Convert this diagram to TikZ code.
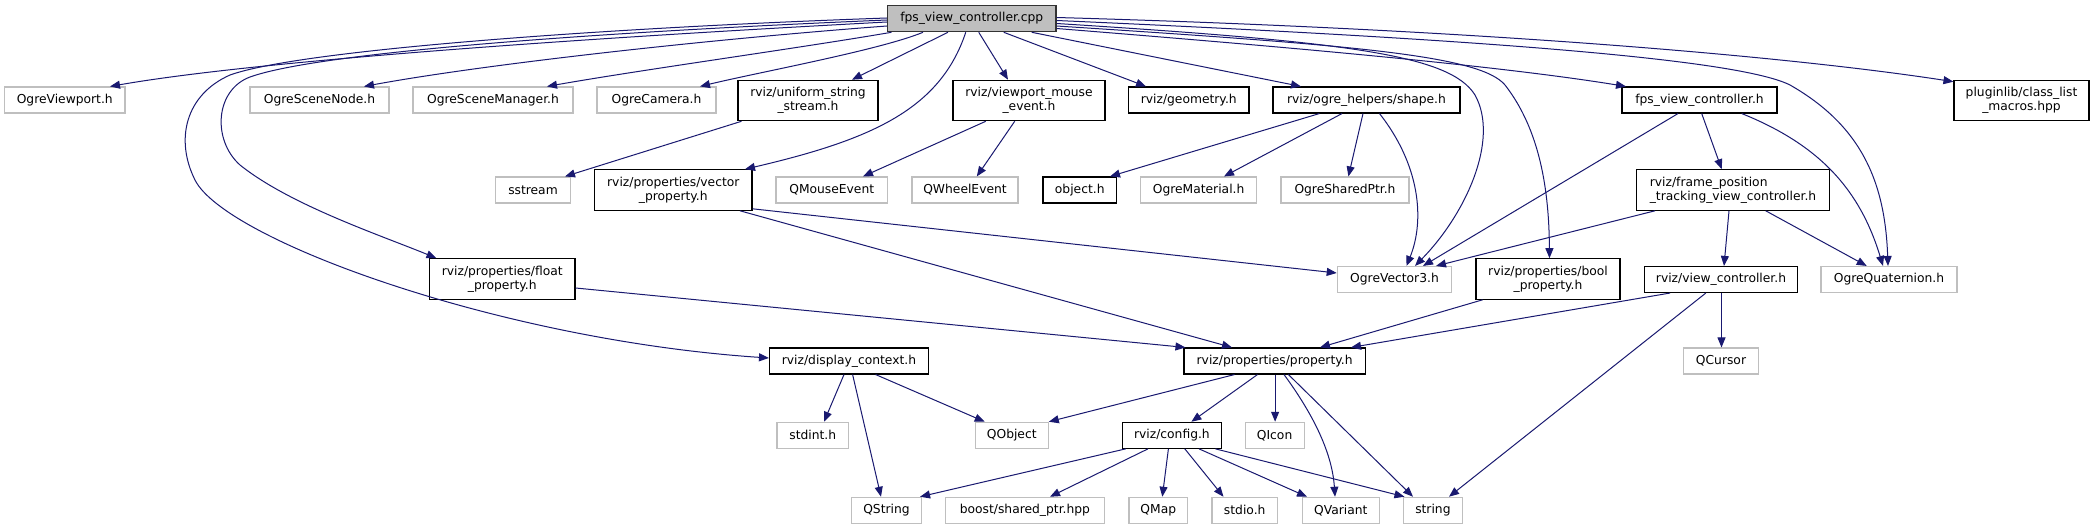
\documentclass[tikz,border=0pt]{standalone}
\usepackage{fontspec}
\setmainfont{DejaVu Sans}
\usetikzlibrary{arrows.meta,calc}
\definecolor{edgec}{HTML}{191970}
\definecolor{grayb}{HTML}{BFBFBF}
\begin{document}
\begin{tikzpicture}[x=1pt,y=-1pt,
  nd/.style={draw, inner sep=0pt, line width=1.1pt, font=\fontsize{12.3}{14}\selectfont, align=center, fill=white},
  blk/.style={nd, draw=black},
  gry/.style={nd, draw=grayb},
  rootn/.style={nd, draw=black!80, fill=grayb},
  s1/.style={minimum height=26},
  s2/.style={minimum height=40.5},
  e/.style={draw=edgec, line width=1pt, -{Triangle[length=10pt,width=8pt]}},
]
\fill[white] (0,0) rectangle (2094,529);
\useasboundingbox (0,0) rectangle (2094,529);

% root
\node[rootn, minimum width=168.5, minimum height=26.5] (root) at (971.75,18.5) {fps\_view\_controller.cpp};

% row 1
\node[gry, s1, minimum width=120.5] (vp) at (64.75,100) {OgreViewport.h};
\node[gry, s1, minimum width=139] (sn) at (319.5,100) {OgreSceneNode.h};
\node[gry, s1, minimum width=160] (sm) at (493,100) {OgreSceneManager.h};
\node[gry, s1, minimum width=119] (cam) at (656.5,100) {OgreCamera.h};
\node[blk, s2, minimum width=140] (uss) at (808,100.5) {rviz/uniform\_string\\\_stream.h};
\node[blk, s2, minimum width=152] (vme) at (1029,100.5) {rviz/viewport\_mouse\\\_event.h};
\node[blk, s1, minimum width=120.5] (geo) at (1188.75,100) {rviz/geometry.h};
\node[blk, s1, minimum width=187] (shape) at (1366.5,100) {rviz/ogre\_helpers/shape.h};
\node[blk, s1, minimum width=155] (fpsh) at (1699.5,100) {fps\_view\_controller.h};
\node[blk, s2, minimum width=135] (plug) at (2021.5,100.5) {pluginlib/class\_list\\\_macros.hpp};

% row 2
\node[gry, s1, minimum width=75] (sstream) at (533,190) {sstream};
\node[blk, s2, minimum width=157.4] (vecp) at (673.3,190) {rviz/properties/vector\\\_property.h};
\node[gry, s1, minimum width=111.5] (qme) at (831.75,190) {QMouseEvent};
\node[gry, s1, minimum width=106] (qwe) at (965,190) {QWheelEvent};
\node[blk, s1, minimum width=73.5] (obj) at (1079.75,190) {object.h};
\node[gry, s1, minimum width=116] (omat) at (1198.6,190) {OgreMaterial.h};
\node[gry, s1, minimum width=128] (osp) at (1345,190) {OgreSharedPtr.h};
\node[blk, s2, minimum width=193, align=left] (frame) at (1733,190) {rviz/frame\_position\\\_tracking\_view\_controller.h};

% row 3
\node[blk, s2, minimum width=145.5] (float) at (502.25,279) {rviz/properties/float\\\_property.h};
\node[gry, s1, minimum width=114.5] (ov3) at (1394.5,279.5) {OgreVector3.h};
\node[blk, s2, minimum width=144] (boolp) at (1548,279) {rviz/properties/bool\\\_property.h};
\node[blk, s1, minimum width=153.5] (vc) at (1721,279.5) {rviz/view\_controller.h};
\node[gry, s1, minimum width=136] (oq) at (1889,279.5) {OgreQuaternion.h};

% row 4
\node[blk, s1, minimum width=159] (dctx) at (849,361) {rviz/display\_context.h};
\node[blk, s1, minimum width=181.2] (prop) at (1274.6,361) {rviz/properties/property.h};
\node[gry, s1, minimum width=75] (qcur) at (1721,361) {QCursor};

% row 5
\node[gry, s1, minimum width=71.6] (stdint) at (812.8,435.3) {stdint.h};
\node[gry, s1, minimum width=73] (qobj) at (1011.75,435.3) {QObject};
\node[blk, s1, minimum width=99] (cfg) at (1171.9,435.3) {rviz/config.h};
\node[gry, s1, minimum width=59] (qicon) at (1274.6,435.3) {QIcon};

% row 6
\node[gry, s1, minimum width=70] (qstr) at (886.5,510.3) {QString};
\node[gry, s1, minimum width=159.2] (boost) at (1024.9,510.3) {boost/shared\_ptr.hpp};
\node[gry, s1, minimum width=58.7] (qmap) at (1158.3,510.3) {QMap};
\node[gry, s1, minimum width=65.4] (stdio) at (1244.7,510.3) {stdio.h};
\node[gry, s1, minimum width=77.1] (qvar) at (1340.85,510.3) {QVariant};
\node[gry, s1, minimum width=58.8] (string) at (1432.9,510.3) {string};

% edges from root
\draw[e] ($(root.west)+(0,-0.5)$) .. controls (600,28) and (300,50) .. (230,75) .. controls (185,95) and (175,140) .. (195,180) .. controls (225,240) and (500,340) .. ($(dctx.west)+(0,-3)$);
\draw[e] ($(root.west)+(0,1.5)$) .. controls (600,32) and (320,52) .. (250,77) .. controls (215,90) and (212,140) .. (240,165) .. controls (290,205) and (380,235) .. ($(float.north west)+(7.5,0)$);
\draw[e] ($(root.west)+(0,3.5)$) .. controls (550,40) and (250,62) .. ($(vp.north)+(45.25,0)$);
\draw[e] ($(root.west)+(0,7.5)$) .. controls (700,40) and (480,65) .. ($(sn.north)+(44.5,0)$);
\draw[e] ($(root.south west)+(4.5,0)$) .. controls (800,48) and (640,70) .. ($(sm.north)+(54,0)$);
\draw[e] ($(root.south)+(-48.75,0)$) .. controls (880,50) and (760,72) .. ($(cam.north)+(43.5,0)$);
\draw[e] ($(root.south)+(-23.75,0)$) -- ($(uss.north)+(44,0)$);
\draw[e] ($(root.south)+(-6,0)$) .. controls (940,110) and (870,140) .. ($(vecp.north)+(71.7,0)$);
\draw[e] ($(root.south)+(7,0)$) -- ($(vme.north)+(-21,0)$);
\draw[e] ($(root.south)+(32,0)$) -- ($(geo.north)+(-42.75,0)$);
\draw[e] ($(root.south)+(60,0)$) -- ($(shape.north)+(-65.5,0)$);
\draw[e] ($(root.east)+(0,10)$) .. controls (1300,48) and (1500,66) .. ($(fpsh.north)+(-73.5,0)$);
\draw[e] ($(root.east)+(0,-1)$) .. controls (1500,30) and (1800,58) .. ($(plug.north west)+(0,2)$);
\draw[e] ($(root.east)+(0,2)$) .. controls (1500,40) and (1740,60) .. (1790,85) .. controls (1860,125) and (1885,180) .. ($(oq.north)+(-1,0)$);
\draw[e] ($(root.east)+(0,5)$) .. controls (1350,42) and (1450,55) .. (1475,95) .. controls (1500,140) and (1465,215) .. ($(ov3.north)+(20.5,0)$);
\draw[e] ($(root.east)+(0,7.5)$) .. controls (1350,45) and (1480,55) .. (1505,85) .. controls (1540,130) and (1549,190) .. ($(boolp.north)+(1.5,0)$);

% other edges
\draw[e] ($(uss.south west)+(4,0)$) -- ($(sstream.north)+(32,0)$);
\draw[e] ($(vme.south)+(-43.3,0)$) -- ($(qme.north)+(31.25,0)$);
\draw[e] ($(vme.south)+(-14.3,0)$) -- ($(qwe.north)+(11.8,0)$);
\draw[e] ($(shape.south)+(-47.1,0)$) -- ($(obj.north)+(30.25,0)$);
\draw[e] ($(shape.south)+(-24.5,0)$) -- ($(omat.north)+(25.4,0)$);
\draw[e] ($(shape.south)+(-3.5,0)$) -- ($(osp.north)+(3.4,0)$);
\draw[e] ($(shape.south)+(13,0)$) .. controls (1420,165) and (1425,220) .. ($(ov3.north)+(12,0)$);
\draw[e] ($(fpsh.south)+(-21.5,0)$) -- ($(ov3.north)+(28.5,0)$);
\draw[e] ($(fpsh.south)+(2.2,0)$) -- ($(frame.north)+(-11.3,0)$);
\draw[e] ($(fpsh.south)+(42.2,0)$) .. controls (1820,145) and (1860,190) .. ($(oq.north)+(-6,0)$);
\draw[e] ($(frame.south)+(-78,0)$) -- ($(ov3.north)+(41.5,0)$);
\draw[e] ($(frame.south)+(-4,0)$) -- ($(vc.north)+(3,0)$);
\draw[e] ($(frame.south)+(32.7,0)$) -- ($(oq.north)+(-22.3,0)$);
\draw[e] ($(vecp.south east)+(0,-2)$) -- ($(ov3.west)+(0,-6.5)$);
\draw[e] ($(vecp.south)+(66.7,0)$) -- ($(prop.north)+(-42.6,0)$);
\draw[e] ($(float.east)+(0,9)$) -- ($(prop.north west)+(2,0)$);
\draw[e] ($(boolp.south)+(-65.4,0)$) -- ($(prop.north)+(45.4,0)$);
\draw[e] ($(vc.south)+(-51,0)$) -- ($(prop.north)+(76.4,0)$);
\draw[e] ($(vc.south)+(0.5,0)$) -- ($(qcur.north)+(0.5,0)$);
\draw[e] ($(vc.south)+(-15.2,0)$) -- ($(string.north)+(16.1,0)$);
\draw[e] ($(dctx.south)+(-5,0)$) -- ($(stdint.north)+(11.2,0)$);
\draw[e] ($(dctx.south)+(3.6,0)$) -- ($(qstr.north)+(-5.5,0)$);
\draw[e] ($(dctx.south)+(26.6,0)$) -- ($(qobj.north)+(-27,0)$);
\draw[e] ($(prop.south)+(-40.1,0)$) -- (qobj.north east);
\draw[e] ($(prop.south)+(-17.1,0)$) -- ($(cfg.north)+(19.5,0)$);
\draw[e] ($(prop.south)+(0.5,0)$) -- ($(qicon.north)+(0.5,0)$);
\draw[e] ($(prop.south)+(9.4,0)$) .. controls (1310,410) and (1332,450) .. ($(qvar.north)+(-5.85,0)$);
\draw[e] ($(prop.south)+(13.8,0)$) -- ($(string.north)+(-19.9,0)$);
\draw[e] ($(cfg.south)+(-46.2,0)$) -- ($(qstr.north east)+(-2,0)$);
\draw[e] ($(cfg.south)+(-23.9,0)$) -- ($(boost.north)+(25.1,0)$);
\draw[e] ($(cfg.south)+(-3.5,0)$) -- ($(qmap.north)+(4,0)$);
\draw[e] ($(cfg.south)+(12.9,0)$) -- ($(stdio.north)+(-21.2,0)$);
\draw[e] ($(cfg.south)+(27.1,0)$) -- ($(qvar.north)+(-33.85,0)$);
\draw[e] ($(cfg.south)+(43.5,0)$) -- ($(string.north west)+(1.5,0)$);
\end{tikzpicture}
\end{document}
